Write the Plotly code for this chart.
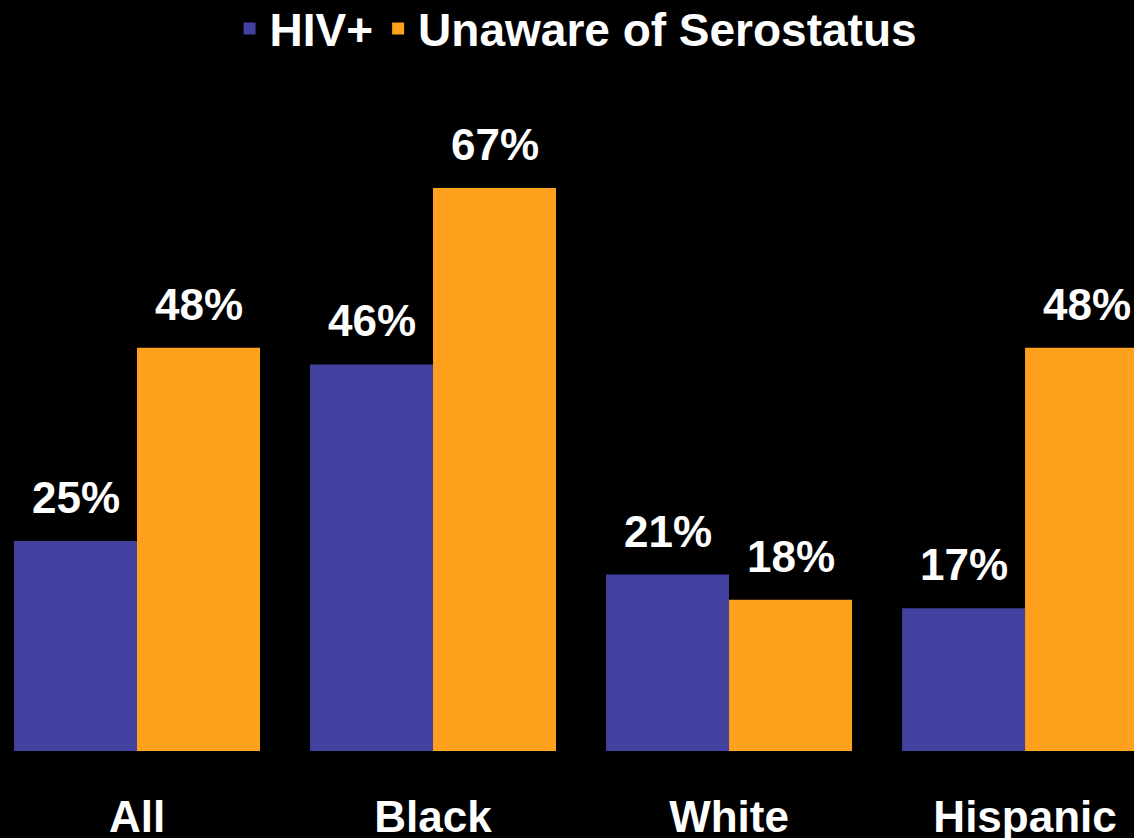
import plotly.graph_objects as go

categories = ["All", "Black", "White", "Hispanic"]
hiv_pos = [25, 46, 21, 17]
unaware = [48, 67, 18, 48]
series_names = ["HIV+", "Unaware of Serostatus"]
colors = ["#4341A0", "#FFA11C"]

FONT = "Liberation Sans, Arial, sans-serif"
bargap = 0.169
half = (1 - bargap) / 4  # offset of each bar centre from category centre

fig = go.Figure()
for name, vals, col in zip(series_names, [hiv_pos, unaware], colors):
    fig.add_trace(go.Bar(name=f"<b>{name}</b>", x=categories, y=vals,
                         marker=dict(color=col, line=dict(width=0))))

annotations = []
for s, vals in enumerate([hiv_pos, unaware]):
    off = -half if s == 0 else half
    for i, v in enumerate(vals):
        annotations.append(dict(
            x=i + off, y=v, xref="x", yref="y", text=f"<b>{v}%</b>",
            showarrow=False, yanchor="bottom", yshift=17,
            font=dict(family=FONT, size=44, color="white")))

fig.update_layout(
    width=1134, height=838,
    paper_bgcolor="black", plot_bgcolor="black",
    margin=dict(l=0, r=0, t=80, b=87, autoexpand=False),
    barmode="group", bargap=bargap, bargroupgap=0,
    font=dict(family=FONT, color="white"),
    showlegend=True,
    legend=dict(orientation="h", x=0.508, xanchor="center", y=1.131, yref="paper", yanchor="top",
                font=dict(family=FONT, size=46, color="white"), bgcolor="rgba(0,0,0,0)",
                itemwidth=30, tracegroupgap=0),
    annotations=annotations,
    xaxis=dict(range=[-0.4628, 3.368], showgrid=False, zeroline=False, showline=False,
               tickfont=dict(family=FONT, size=44, color="white"), automargin=False,
               ticklabelstandoff=36, ticks=""),
    yaxis=dict(range=[0, 79.85], visible=False, automargin=False),
)
fig.update_xaxes(tickvals=categories, ticktext=[f"<b>{c}</b>" for c in categories])

fig.write_html("out.html", config={"displayModeBar": False},
               post_script="document.body.style.margin='0';document.body.style.background='black';")
